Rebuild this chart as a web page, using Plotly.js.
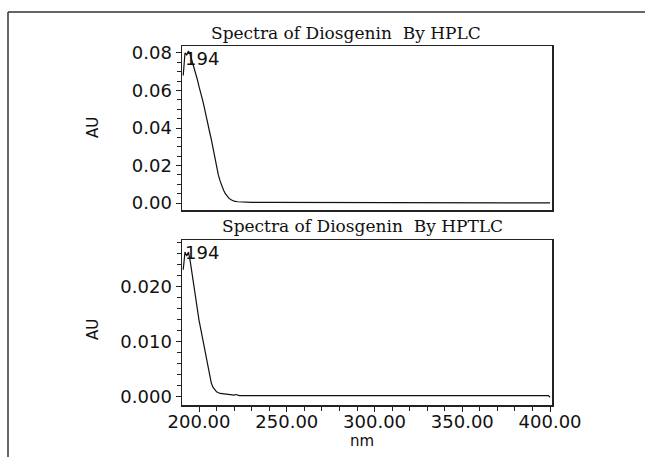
<!DOCTYPE html>
<html>
<head>
<meta charset="utf-8">
<script src="https://cdn.plot.ly/plotly-3.0.1.min.js"></script>
<style>html,body{margin:0;padding:0;background:#fff;}#chart{width:645px;height:457px;}</style>
</head>
<body>
<div id="chart"></div>
<script>
// Wavelengths (nm) and absorbance (AU)
const hplcNm = [191,192,193,194,195,196,197,198,199,200,201,202,203,204,205,206,207,208,209,210,211,212,213,214,215,216,217,218,219,220,222,225,230,240,243,244,245,250,270,300,330,360,375,378,379,380,383,390,400];
const hplcAU = [0.068,0.080,0.079,0.081,0.079,0.076,0.073,0.070,0.066,0.062,0.059,0.055,0.051,0.046,0.042,0.038,0.034,0.029,0.024,0.020,0.015,0.0118,0.009,0.0068,0.005,0.0036,0.0026,0.0019,0.0014,0.0010,0.0007,0.0005,0.0004,0.0004,0.0004,0.0001,0.0004,0.0003,0.0003,0.0002,0.0002,0.0002,0.0002,0.0002,0.0005,0.0002,0.0002,0.0001,0.0001];

const hptlcNm = [191,192,193,194,195,196,197,198,199,200,201,202,203,204,205,206,207,208,209,210,212,214,216,218,220,221,222,223,225,250,300,350,360,361,362,380,395,396,397,398,399,400];
const hptlcAU = [0.0230,0.0262,0.0255,0.0262,0.0245,0.0222,0.0200,0.0178,0.0156,0.0138,0.0122,0.0105,0.0090,0.0072,0.0052,0.0035,0.0024,0.0016,0.0011,0.0008,0.0005,0.0004,0.0003,0.0002,0.0002,0.0003,0.0002,0.0001,0.0001,0.0001,0.0001,0.0001,0.0001,0.0002,0.0001,0.0001,0.0001,0.0002,0.0002,0.0001,0.0001,-0.0002];

const peakLabel = "194";
const xTickVals = [200, 250, 300, 350, 400];
const titleTop = "Spectra of Diosgenin&nbsp; By HPLC";
const titleBottom = "Spectra of Diosgenin&nbsp; By HPTLC";

const W = 645, H = 457;
const px = v => v / W;
const py = v => 1 - v / H;

const tickFont = {family: "DejaVu Sans, sans-serif", size: 18, color: "#111"};
const titleFont = {family: "DejaVu Serif, serif", size: 17, color: "#111"};
const labelFont = {family: "DejaVu Sans, sans-serif", size: 15, color: "#111"};
const lineCol = "#222";

const traces = [
  {x: hplcNm, y: hplcAU, xaxis: "x", yaxis: "y", mode: "lines", line: {color: "#111", width: 1.2}, hoverinfo: "skip"},
  {x: hptlcNm, y: hptlcAU, xaxis: "x2", yaxis: "y2", mode: "lines", line: {color: "#111", width: 1.2}, hoverinfo: "skip"}
];

const xr = [190.3, 401.1];
const layout = {
  width: W, height: H,
  margin: {l: 0, r: 0, t: 0, b: 0},
  paper_bgcolor: "#fff", plot_bgcolor: "#fff",
  showlegend: false,
  xaxis: {
    domain: [px(182), px(552)], range: xr, anchor: "y",
    showline: true, mirror: true, linecolor: lineCol, linewidth: 1.5,
    showgrid: false, zeroline: false, ticks: "", showticklabels: false
  },
  yaxis: {
    domain: [py(210), py(46)], range: [-0.0037, 0.0837], anchor: "x",
    showline: true, mirror: true, linecolor: lineCol, linewidth: 1.5,
    showgrid: false, zeroline: false,
    ticks: "outside", ticklen: 5, tickcolor: lineCol, tickwidth: 1,
    tickvals: [0, 0.02, 0.04, 0.06, 0.08], tickformat: ".2f",
    minor: {dtick: 0.005, tick0: 0, ticks: "outside", ticklen: 4, tickcolor: lineCol, showgrid: false},
    tickfont: tickFont
  },
  xaxis2: {
    domain: [px(182), px(552)], range: xr, anchor: "y2",
    showline: true, mirror: true, linecolor: lineCol, linewidth: 1.5,
    showgrid: false, zeroline: false,
    ticks: "outside", ticklen: 5, tickcolor: lineCol, tickwidth: 1,
    tickvals: xTickVals, tickformat: ".2f",
    ticklabelstandoff: -5,
    minor: {dtick: 10, tick0: 200, ticks: "outside", ticklen: 4, tickcolor: lineCol, showgrid: false},
    tickfont: tickFont
  },
  yaxis2: {
    domain: [py(405), py(240)], range: [-0.0016, 0.0284], anchor: "x2",
    showline: true, mirror: true, linecolor: lineCol, linewidth: 1.5,
    showgrid: false, zeroline: false,
    ticks: "outside", ticklen: 5, tickcolor: lineCol, tickwidth: 1,
    tickvals: [0, 0.01, 0.02], tickformat: ".3f",
    minor: {dtick: 0.002, tick0: 0, ticks: "outside", ticklen: 4, tickcolor: lineCol, showgrid: false},
    tickfont: tickFont
  },
  shapes: [
    {type: "line", xref: "paper", yref: "paper", x0: px(8), x1: 1.01, y0: py(12), y1: py(12), line: {color: "#333", width: 1.5}},
    {type: "line", xref: "paper", yref: "paper", x0: px(8), x1: px(8), y0: py(12), y1: -0.01, line: {color: "#333", width: 1.5}}
  ],
  annotations: [
    {text: titleTop, xref: "paper", yref: "paper", x: px(346), y: py(33), xanchor: "center", yanchor: "middle", showarrow: false, font: titleFont},
    {text: titleBottom, xref: "paper", yref: "paper", x: px(362), y: py(226), xanchor: "center", yanchor: "middle", showarrow: false, font: titleFont},
    {text: "AU", xref: "paper", yref: "paper", x: px(93), y: py(128), textangle: -90, xanchor: "center", yanchor: "middle", showarrow: false, font: labelFont},
    {text: "AU", xref: "paper", yref: "paper", x: px(93), y: py(330), textangle: -90, xanchor: "center", yanchor: "middle", showarrow: false, font: labelFont},
    {text: "nm", xref: "paper", yref: "paper", x: px(362), y: py(441), xanchor: "center", yanchor: "middle", showarrow: false, font: labelFont},
    {text: peakLabel, xref: "x", yref: "y domain", x: 194, y: 1, xanchor: "left", yanchor: "top", xshift: -5, yshift: 0, showarrow: false, font: tickFont},
    {text: peakLabel, xref: "x2", yref: "y2 domain", x: 194, y: 1, xanchor: "left", yanchor: "top", xshift: -5, yshift: 0, showarrow: false, font: tickFont}
  ]
};

Plotly.newPlot("chart", traces, layout, {staticPlot: true, displayModeBar: false});
</script>
</body>
</html>
